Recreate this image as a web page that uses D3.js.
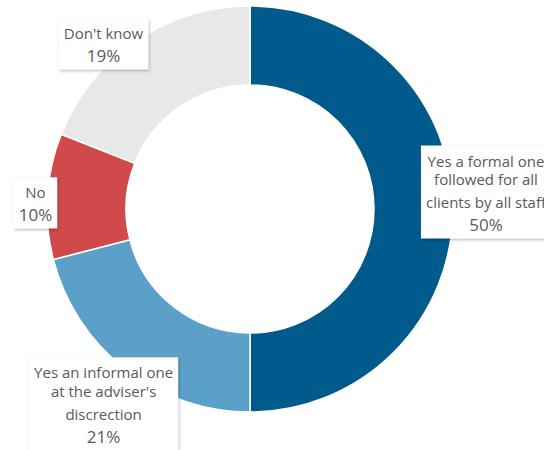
<!DOCTYPE html>
<html>
<head>
<meta charset="utf-8">
<script src="https://cdn.jsdelivr.net/npm/d3@7"></script>
<style>
  html, body { margin: 0; padding: 0; background: #fff; }
  svg { display: block; }
  text { font-family: "Open Sans", sans-serif; fill: #5a5a5a; }
</style>
</head>
<body>
<svg id="chart" width="544" height="450"></svg>
<script>
// Survey answers, in drawing order (clockwise from 12 o'clock)
const categories = [
  "Yes a formal one followed for all clients by all staff",
  "Yes an informal one at the adviser's discrection",
  "No",
  "Don't know"
];
const shares = [50, 21, 10, 19];
const colors = ["#005b8c", "#5ba0c8", "#d04a4b", "#e8e8e8"];

// Label lines: groups are separated by an explicit break, lines in a group are wrapped
const labelLines = [
  [["Yes a formal one", "followed for all"], ["clients by all staff"]],
  [["Yes an informal one", "at the adviser's"], ["discrection"]],
  [["No"]],
  [["Don't know"]]
];
// Per-label nudge from the label ring point on the slice's mid angle
const labelNudge = [[11, -17], [-8.5, 17], [10, 8], [-20, 21]];

const width = 544, height = 450;
const cx = 250, cy = 209;
const outerR = 203, innerR = 124, labelR = 225;

const svg = d3.select("#chart");

// soft shadow under label boxes
const defs = svg.append("defs");
const f = defs.append("filter").attr("id", "shadow")
  .attr("x", "-10%").attr("y", "-10%").attr("width", "130%").attr("height", "130%");
f.append("feDropShadow").attr("dx", 1).attr("dy", 1.5)
  .attr("stdDeviation", 1.4).attr("flood-color", "#000").attr("flood-opacity", 0.28);

const data = categories.map((c, i) => ({ name: c, value: shares[i], color: colors[i], lines: labelLines[i], nudge: labelNudge[i] }));

const pie = d3.pie().value(d => d.value).sort(null);
const arc = d3.arc().innerRadius(innerR).outerRadius(outerR);
const arcs = pie(data);

const g = svg.append("g").attr("transform", `translate(${cx},${cy})`);

g.selectAll("path.slice")
  .data(arcs)
  .join("path")
  .attr("class", "slice")
  .attr("d", arc)
  .attr("fill", d => d.data.color)
  .attr("stroke", "#fff")
  .attr("stroke-width", 1.5)
  .attr("stroke-linejoin", "round");

// Data labels: white boxes holding the answer and its share
const topPad = 21, wrapGap = 18.6, breakGap = 23.3, pctGap = 23, bottomPad = 7, sidePad = 5;

arcs.forEach(a => {
  const mid = (a.startAngle + a.endAngle) / 2;
  const px = Math.sin(mid) * labelR + a.data.nudge[0];
  const py = -Math.cos(mid) * labelR + a.data.nudge[1];

  // compute baseline offsets relative to box top
  const rows = [];
  let y = topPad;
  a.data.lines.forEach((grp, gi) => {
    grp.forEach((line, li) => {
      if (gi > 0 || li > 0) y += (li === 0 ? breakGap : wrapGap);
      rows.push({ text: line, y, size: 15 });
    });
  });
  y += pctGap;
  rows.push({ text: a.data.value + "%", y, size: 17 });
  const boxH = y + bottomPad;

  const lg = g.append("g").attr("transform", `translate(${px},${py - boxH / 2})`);
  const rect = lg.append("rect").attr("fill", "#fff").attr("filter", "url(#shadow)");
  const texts = lg.selectAll("text")
    .data(rows)
    .join("text")
    .attr("x", 0)
    .attr("y", d => d.y)
    .attr("text-anchor", "middle")
    .style("font-size", d => d.size + "px")
    .text(d => d.text);

  let maxW = 0;
  texts.each(function () { maxW = Math.max(maxW, this.getComputedTextLength()); });
  const boxW = maxW + sidePad * 2;
  rect.attr("x", -boxW / 2).attr("y", 0).attr("width", boxW).attr("height", boxH);
});
</script>
</body>
</html>
